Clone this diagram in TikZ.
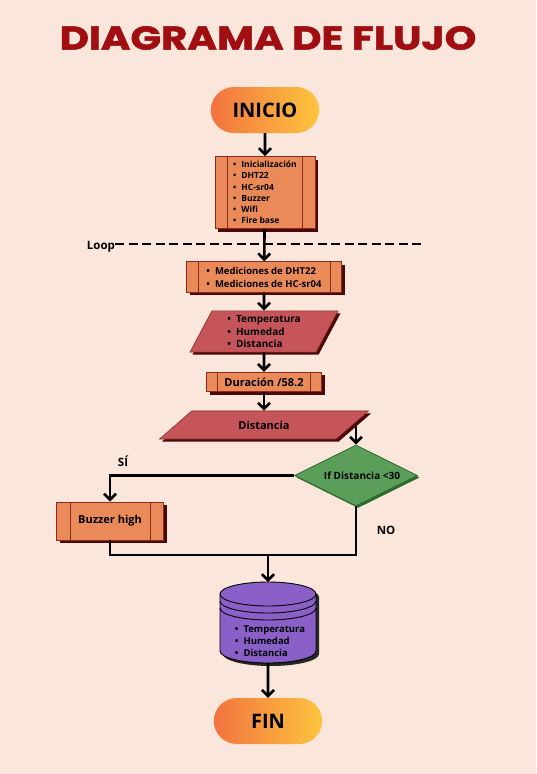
\documentclass[tikz,border=0pt]{standalone}
\usepackage{fontspec}
\setmainfont{Open Sans}
\newfontfamily\titlefont{Poppins}[BoldFeatures={FakeBold=1.5}]
\usepackage{graphicx}
\usepackage{tikz}
\usetikzlibrary{arrows.meta}
\usetikzlibrary{positioning}
\usetikzlibrary{shadows,shapes,calc}

\definecolor{fondo}{HTML}{FAE6DA}
\definecolor{titulo}{HTML}{A10E12}
\definecolor{naranja}{HTML}{EA8A58}
\definecolor{borde}{HTML}{8A2A22}
\definecolor{sombra}{HTML}{4A0808}
\definecolor{rojo}{HTML}{C5555A}
\definecolor{verde}{HTML}{5B9E5A}
\definecolor{verdeosc}{HTML}{2E6A2E}
\definecolor{morado}{HTML}{8A60C8}
\definecolor{gradA}{HTML}{F2733F}
\definecolor{gradB}{HTML}{FDC53F}

\newcommand{\bul}{\textbullet\hspace{5pt}}

\begin{document}
\begin{tikzpicture}[x=1pt,y=-1pt,font=\bfseries,
  flecha/.style={-{Straight Barb[length=6pt,width=12pt]},line width=2.6pt},
  linea/.style={line width=2.6pt},
  extremo/.style={rounded rectangle, left color=gradA, right color=gradB,
    minimum width=115pt, minimum height=46pt, font=\bfseries\fontsize{20}{24}\selectfont},
  proceso/.style={rectangle, draw=borde, fill=naranja, line width=0.9pt, inner sep=2pt,
    drop shadow={shadow xshift=3pt, shadow yshift=-3pt, fill=sombra, opacity=1}},
  datos/.style={trapezium, trapezium stretches body, draw=borde, fill=rojo, line width=0.6pt,
    inner xsep=1pt, drop shadow={shadow xshift=2.5pt, shadow yshift=-2.5pt, fill=sombra, opacity=1}},
  lista/.style={align=left},
  etiqueta/.style={font=\bfseries\fontsize{11.5}{13}\selectfont, inner sep=0pt}]
  \fill[fondo] (0,0) rectangle (536,774);

  \node[text=titulo, font=\titlefont\bfseries\fontsize{33}{33}\selectfont] (T) at (268,38)
    {\scalebox{1.22}[1]{DIAGRAMA DE FLUJO}};

  \node[extremo] (A) at (265,110) {INICIO};
  \node[proceso, lista, minimum width=100pt, minimum height=72pt, font=\bfseries\fontsize{8.5}{11.3}\selectfont] (B) at (265,192.5)
    {\bul Inicialización\\ \bul DHT22\\ \bul HC-sr04\\ \bul Buzzer\\ \bul Wifi\\ \bul Fire base};
  \node[proceso, lista, minimum width=155pt, minimum height=30.5pt, font=\bfseries\fontsize{9.5}{13}\selectfont] (C) at (264,277)
    {\bul Mediciones de DHT22\\ \bul Mediciones de HC-sr04};
  \node[datos, lista, trapezium left angle=62, trapezium right angle=118, minimum width=148pt, inner ysep=4.3pt,
    font=\bfseries\fontsize{10}{12.7}\selectfont] (D) at (264,331.5)
    {\bul Temperatura\\ \bul Humedad\\ \bul Distancia};
  \node[proceso, minimum width=115pt, minimum height=19.5pt, font=\bfseries\fontsize{11}{13}\selectfont] (E) at (264,382) {Duración /58.2};
  \node[datos, trapezium left angle=41, trapezium right angle=139, minimum width=209pt, inner ysep=9.8pt,
    font=\bfseries\fontsize{11}{13}\selectfont] (F) at (264,425) {Distancia};
  \node[diamond, aspect=2, draw=verdeosc, fill=verde, line width=0.8pt, inner sep=0pt, minimum width=123pt, minimum height=61pt,
    drop shadow={shadow xshift=2pt, shadow yshift=-2pt, fill=verdeosc, opacity=1},
    font=\bfseries\fontsize{10}{12}\selectfont] (G) at (356,475.5) {\hspace*{12pt}If Distancia <30};
  \node[proceso, minimum width=107pt, minimum height=38pt, font=\bfseries\fontsize{11}{13}\selectfont] (H) at (110,521) {Buzzer high};
  \node[extremo] (J) at (268,721) {FIN};

  % las lineas internas de los procesos
  \foreach \n/\d in {B/13,C/12,E/11.5,H/14}{
    \draw[borde, line width=0.9pt] ($(\n.north west)+(\d,0)$) -- ($(\n.south west)+(\d,0)$);
    \draw[borde, line width=0.9pt] ($(\n.north east)+(-\d,0)$) -- ($(\n.south east)+(-\d,0)$);
  }

  % base de datos
  \coordinate (dbtop) at (268,582);
  \coordinate (dbbot) at (268,663);
  \fill[black!85, xshift=3pt, yshift=-3pt] (220,594) -- (220,651) arc[start angle=180, end angle=360, x radius=48pt, y radius=12pt]
    -- (316,594) arc[start angle=0, end angle=180, x radius=48pt, y radius=12pt] -- cycle;
  \filldraw[fill=morado, draw=black, line width=0.9pt] (220,594) -- (220,651) arc[start angle=180, end angle=360, x radius=48pt, y radius=12pt]
    -- (316,594) arc[start angle=0, end angle=180, x radius=48pt, y radius=12pt] -- cycle;
  \foreach \y in {594,601,608}
    \draw[line width=0.9pt] (220,\y) arc[start angle=180, end angle=360, x radius=48pt, y radius=12pt];
  \node[lista, font=\bfseries\fontsize{9.5}{12.2}\selectfont] (I) at (270,641) {\bul Temperatura\\ \bul Humedad\\ \bul Distancia};

  % loop
  \node[etiqueta] (L) at (101,246.5) {Loop};
  \coordinate (Lfin) at (422,244);
  \draw[line width=2.3pt, dash pattern=on 9pt off 4.5pt] (L.east |- Lfin) -- (Lfin);

  \coordinate (M) at (268,555);
  \node[etiqueta] (si) at (123,461) {SÍ};
  \node[etiqueta] (no) at (386,530) {NO};

  \draw[flecha] (A) -- (B);
  \draw[flecha] (B) -- (C);
  \draw[flecha] (C) -- (D);
  \draw[flecha] (D) -- (E);
  \draw[flecha] (E) -- (F);
  \draw[flecha] (G.north |- F.east) -- (G.north);
  \draw[flecha] (G.west) -| (H.north);
  \draw[linea] (H.south) |- (M) -| (G.south);
  \draw[flecha] (M) -- (dbtop);
  \draw[flecha] (dbbot) -- (J);
\end{tikzpicture}
\end{document}
